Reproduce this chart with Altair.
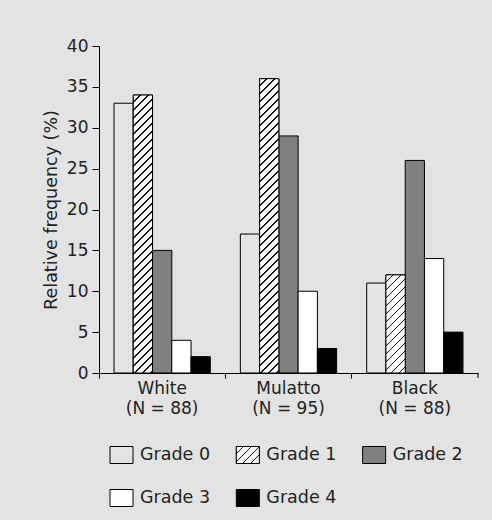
import altair as alt
import pandas as pd

# ---------------- data ----------------
groups = ["White", "Mulatto", "Black"]
group_n = [88, 95, 88]
grades = ["Grade 0", "Grade 1", "Grade 2", "Grade 3", "Grade 4"]
white_vals = [33, 34, 15, 4, 2]
mulatto_vals = [17, 36, 29, 10, 3]
black_vals = [11, 12, 26, 14, 5]
y_ticks = [0, 5, 10, 15, 20, 25, 30, 35, 40]

# ---------------- style ----------------
BG = "#e3e3e3"
TXT = "#222222"
FONT = "DejaVu Sans"
HATCHED = "Grade 1"
fills = [BG, "#ffffff", "#808080", "#ffffff", "#000000"]
W, H = 379, 327
YMAX = 40
PAD_OUT = 0.78
band = W / len(groups)
bar_w = band / (len(grades) + 2 * PAD_OUT)

rows = []
for g, vals in zip(groups, [white_vals, mulatto_vals, black_vals]):
    for gr, v in zip(grades, vals):
        rows.append({"group": g, "grade": gr, "value": v})
df = pd.DataFrame(rows)

leg = pd.DataFrame({
    "grade": grades,
    "col": [i % 3 for i in range(len(grades))],
    "row": [i // 3 for i in range(len(grades))],
})


def hatch(w, h, period=8.0, frac=0.22):
    L = w + h
    c = L / (w * w + h * h)
    stops = []
    k = 0
    while k * period < L:
        a = round(k * period / L, 5)
        b = round(min((k + 1 - frac) * period / L, 1.0), 5)
        e = round(min((k + 1) * period / L, 1.0), 5)
        stops += [
            alt.GradientStop(offset=a, color="#ffffff"),
            alt.GradientStop(offset=b, color="#ffffff"),
            alt.GradientStop(offset=b, color="#111111"),
            alt.GradientStop(offset=e, color="#111111"),
        ]
        k += 1
    return alt.LinearGradient(gradient="linear", stops=stops,
                              x1=0, y1=0, x2=round(w * c, 5), y2=round(h * c, 5))


label_expr = ""
for g, n in zip(groups[:-1], group_n[:-1]):
    label_expr += f"datum.label == '{g}' ? ['{g}', '(N = {n})'] : "
label_expr += f"['{groups[-1]}', '(N = {group_n[-1]})']"

x_enc = alt.X("group:N", sort=groups,
              scale=alt.Scale(domain=groups, paddingInner=0, paddingOuter=0),
              axis=alt.Axis(title=None, labelExpr=label_expr, labelAngle=0,
                            labelFontSize=17, labelLineHeight=20, labelPadding=2,
                            tickSize=5, bandPosition=0, domainColor="black",
                            tickColor="black", labelColor=TXT, grid=False))
xo_enc = alt.XOffset("grade:N", sort=grades,
                     scale=alt.Scale(domain=grades, paddingInner=0, paddingOuter=PAD_OUT))
y_enc = alt.Y("value:Q", scale=alt.Scale(domain=[0, YMAX], nice=False),
              axis=alt.Axis(title="Relative frequency (%)", values=y_ticks, tickSize=7,
                            labelPadding=4, grid=False, labelFontSize=17,
                            titleFontSize=17.5, titleFontWeight="normal", titlePadding=6,
                            domainColor="black", tickColor="black",
                            labelColor=TXT, titleColor=TXT))
fill_scale = alt.Scale(domain=grades, range=fills)

bars = alt.Chart(df).mark_bar(stroke="black", strokeWidth=1).encode(
    x=x_enc, xOffset=xo_enc, y=y_enc,
    fill=alt.Fill("grade:N", scale=fill_scale, legend=None),
)

layers = [bars]
for g, vals in zip(groups, [white_vals, mulatto_vals, black_vals]):
    v = vals[grades.index(HATCHED)]
    h = v / YMAX * H
    layers.append(
        alt.Chart(df).transform_filter(
            f"datum.group == '{g}' && datum.grade == '{HATCHED}'"
        ).mark_bar(fill=hatch(bar_w, h), stroke="black", strokeWidth=1).encode(
            x=x_enc, xOffset=xo_enc, y=y_enc)
    )

end_tick = alt.Chart(pd.DataFrame({"a": [0]})).mark_rule(color="black").encode(
    x=alt.value(W), y=alt.value(H), y2=alt.value(H + 5))
layers.append(end_tick)

main = alt.layer(*layers)

lx = alt.X("col:Q", scale=alt.Scale(domain=[0, 3], range=[0, W]), axis=None)
ly = alt.Y("row:Q", scale=alt.Scale(domain=[0, 1], range=[H + 82, H + 125]), axis=None)
SYM = "M-1.15,-0.85H1.15V0.85H-1.15Z"

leg_sym = alt.Chart(leg).mark_point(shape=SYM, size=400, filled=True, opacity=1,
                                    stroke="black", strokeWidth=1, xOffset=22.5).encode(
    x=lx, y=ly, fill=alt.Fill("grade:N", scale=fill_scale, legend=None))
leg_hatch = alt.Chart(leg).transform_filter(f"datum.grade == '{HATCHED}'").mark_point(
    shape=SYM, size=400, filled=True, opacity=1, fill=hatch(23, 17, period=8.0),
    stroke="black", strokeWidth=1, xOffset=22.5).encode(x=lx, y=ly)
leg_txt = alt.Chart(leg).mark_text(align="left", baseline="middle", dx=41,
                                   fontSize=17.5, color=TXT).encode(
    x=lx, y=ly, text="grade:N")

chart = alt.layer(main, leg_sym, leg_hatch, leg_txt).resolve_scale(
    x="independent", y="independent"
).properties(
    width=W, height=H,
    autosize=alt.AutoSizeParams(type="none"),
    padding={"left": 99, "top": 46, "right": 14, "bottom": 147},
    background=BG,
).configure(font=FONT).configure_view(stroke=None)

chart.save("out.html", embed_options={"renderer": "svg", "actions": False})
